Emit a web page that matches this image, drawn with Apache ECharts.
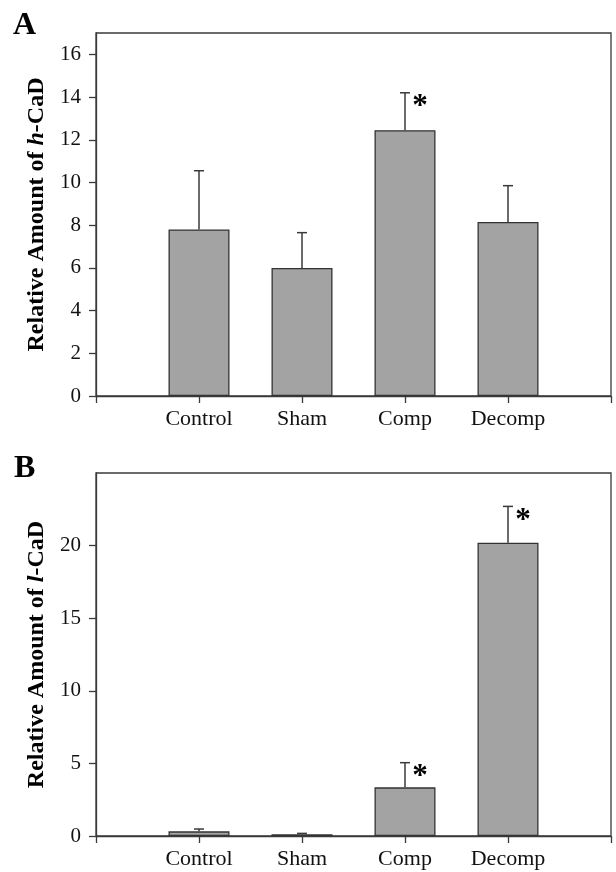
<!DOCTYPE html>
<html>
<head>
<meta charset="utf-8">
<script src="https://cdn.jsdelivr.net/npm/echarts@6/dist/echarts.min.js"></script>
<style>
html,body{margin:0;padding:0;background:#fff;}
#chart{width:616px;height:872px;}
</style>
</head>
<body>
<div id="chart"></div>
<script>
// ---- data ----
const categories = ['Control', 'Sham', 'Comp', 'Decomp'];
const valuesA = [7.8, 6.0, 12.45, 8.15];
const errorsA = [2.75, 1.65, 1.75, 1.7];
const sigA = [false, false, true, false];
const valuesB = [0.32, 0.12, 3.35, 20.2];
const errorsB = [0.16, 0.06, 1.7, 2.5];
const sigB = [false, false, true, true];
const ticksA = [0, 2, 4, 6, 8, 10, 12, 14, 16];
const ticksB = [0, 5, 10, 15, 20];

const FONT = '"Liberation Serif", "Times New Roman", serif';
const AXIS_COLOR = '#3a3a3a';

const axisCats = [''].concat(categories, ['']);
function pad(arr) { return [null].concat(arr, [null]); }

function errData(vals, errs, sig) {
  return vals.map((v, i) => [i + 1, v, v + errs[i], sig[i] ? 1 : 0]);
}

function renderErr(params, api) {
  const x = api.value(0);
  const p0 = api.coord([x, api.value(1)]);
  const p1 = api.coord([x, api.value(2)]);
  const half = 5;
  const style = { stroke: AXIS_COLOR, lineWidth: 1.5 };
  const children = [
    { type: 'line', shape: { x1: p0[0], y1: p0[1], x2: p1[0], y2: p1[1] }, style: style },
    { type: 'line', shape: { x1: p1[0] - half, y1: p1[1], x2: p1[0] + half, y2: p1[1] }, style: style }
  ];
  if (api.value(3) === 1) {
    children.push({
      type: 'text',
      style: {
        text: '*', x: p1[0] + 15, y: p1[1] - 1,
        fill: '#000', font: 'bold 31px ' + FONT,
        align: 'center', verticalAlign: 'top'
      }
    });
  }
  return { type: 'group', children: children };
}

function yAxis(gridIndex, max, interval, ticks, letter) {
  return {
    type: 'value', gridIndex: gridIndex, min: 0, max: max, interval: interval,
    name: '{b|Relative Amount of }{i|' + letter + '}{b|-CaD}',
    nameLocation: 'middle', nameGap: 47, nameRotate: 90,
    nameTextStyle: {
      rich: {
        b: { fontFamily: FONT, fontWeight: 'bold', fontSize: 24, color: '#000' },
        i: { fontFamily: FONT, fontWeight: 'bold', fontStyle: 'italic', fontSize: 24, color: '#000' }
      }
    },
    axisLine: { show: true, lineStyle: { color: AXIS_COLOR, width: 1.3 } },
    axisTick: { show: true, length: 7, inside: false, customValues: ticks, lineStyle: { color: AXIS_COLOR, width: 1.3 } },
    axisLabel: { customValues: ticks, fontFamily: FONT, fontSize: 21, color: '#111', margin: 15 },
    splitLine: { show: false }
  };
}

function xAxis(gridIndex) {
  return {
    type: 'category', gridIndex: gridIndex, data: axisCats, boundaryGap: false,
    axisLine: { show: true, lineStyle: { color: AXIS_COLOR, width: 1.3 } },
    axisTick: { show: true, length: 7, interval: 0, lineStyle: { color: AXIS_COLOR, width: 1.3 } },
    axisLabel: { interval: 0, fontFamily: FONT, fontSize: 22, color: '#111', margin: 12 },
    splitLine: { show: false }
  };
}

const barStyle = { color: '#a3a3a3', borderColor: '#333', borderWidth: 1.3 };

const option = {
  backgroundColor: '#fff',
  animation: false,
  grid: [
    { left: 96, right: 5, top: 33, bottom: 476, show: true, borderColor: AXIS_COLOR, borderWidth: 1.3, backgroundColor: 'transparent' },
    { left: 96, right: 5, top: 473, bottom: 36, show: true, borderColor: AXIS_COLOR, borderWidth: 1.3, backgroundColor: 'transparent' }
  ],
  xAxis: [xAxis(0), xAxis(1)],
  yAxis: [yAxis(0, 17, 2, ticksA, 'h'), yAxis(1, 25, 5, ticksB, 'l')],
  graphic: [
    { type: 'text', left: 13, top: 10, style: { text: 'A', font: 'bold 32px ' + FONT, fill: '#000' } },
    { type: 'text', left: 14, top: 453, style: { text: 'B', font: 'bold 32px ' + FONT, fill: '#000' } }
  ],
  series: [
    { type: 'bar', xAxisIndex: 0, yAxisIndex: 0, data: pad(valuesA), barWidth: 61, itemStyle: barStyle },
    { type: 'custom', xAxisIndex: 0, yAxisIndex: 0, data: errData(valuesA, errorsA, sigA), renderItem: renderErr, z: 5 },
    { type: 'bar', xAxisIndex: 1, yAxisIndex: 1, data: pad(valuesB), barWidth: 61, itemStyle: barStyle },
    { type: 'custom', xAxisIndex: 1, yAxisIndex: 1, data: errData(valuesB, errorsB, sigB), renderItem: renderErr, z: 5 }
  ]
};

const chart = echarts.init(document.getElementById('chart'), null, { renderer: 'canvas' });
chart.setOption(option);
</script>
</body>
</html>
